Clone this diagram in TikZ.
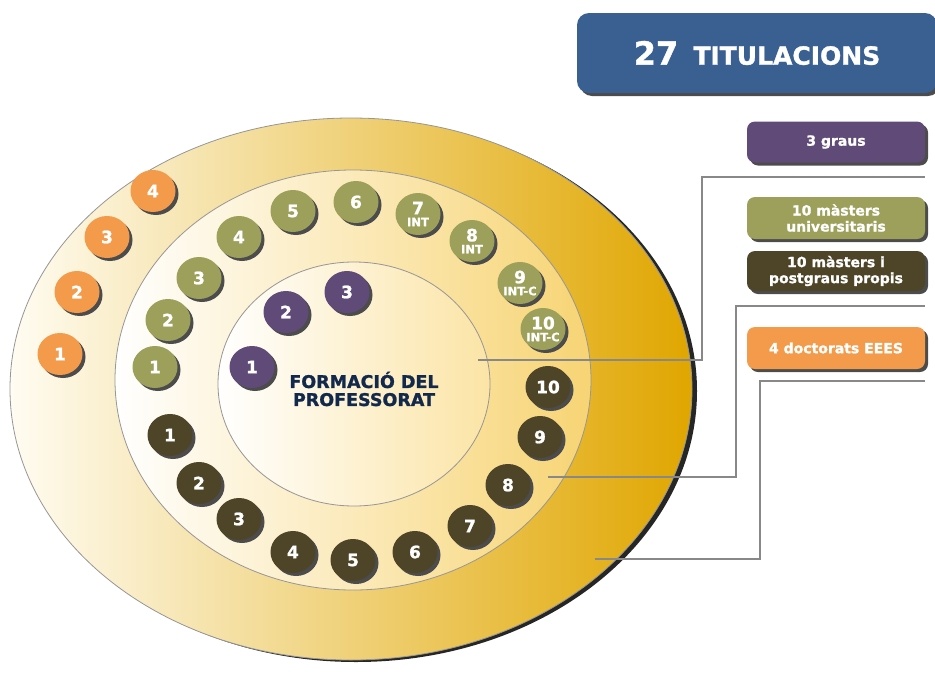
\documentclass[tikz,border=0pt]{standalone}
\usepackage{fontspec}
\setmainfont{DejaVu Sans}[BoldFeatures={FakeBold=1.3}]
\usetikzlibrary{shapes.geometric,shadows}
\definecolor{cor}{RGB}{243,155,74}
\definecolor{col}{RGB}{156,160,90}
\definecolor{cpu}{RGB}{96,74,120}
\definecolor{cbr}{RGB}{78,68,40}
\definecolor{cbl}{RGB}{58,95,145}
\definecolor{cnv}{RGB}{19,41,75}
\definecolor{cln}{RGB}{136,136,136}
\definecolor{cedge}{RGB}{150,150,150}
\definecolor{gA}{RGB}{255,252,242}
\definecolor{gB}{RGB}{243,216,140}
\definecolor{gC}{RGB}{224,166,0}
\definecolor{mB}{RGB}{252,236,190}
\definecolor{mC}{RGB}{247,212,116}
\definecolor{iB}{RGB}{254,244,218}
\definecolor{iC}{RGB}{251,228,165}
\newcommand\smt[1]{{\fontsize{11.5}{11}\selectfont #1}}
\newcommand\mydisc[4]{\node[disc,fill=#2] (#1) at (#3) {}; \node[dtxt] (#1t) at (#1) {#4};}
\begin{document}
\begin{tikzpicture}[x=1pt,y=-1pt,
  disc/.style={ellipse, minimum width=45pt, minimum height=42pt, inner sep=0pt,
    drop shadow={shadow xshift=3pt, shadow yshift=-3pt, fill=black!70, opacity=1}},
  dtxt/.style={inner sep=0pt, text=white, align=center, font=\bfseries\fontsize{17}{14}\selectfont},
  lbox/.style={rounded corners=8pt, minimum width=178pt, inner sep=0pt, text=white, align=center,
    font=\bfseries\fontsize{14}{16}\selectfont,
    drop shadow={shadow xshift=3pt, shadow yshift=-3pt, fill=black!70, opacity=1}},
  ring/.style={ellipse, draw=cedge, line width=0.8pt, inner sep=0pt},
  conn/.style={draw=cln, line width=2.5pt}
]
\useasboundingbox (0,0) rectangle (935,686);
% rings
\node[ring, minimum width=682pt, minimum height=542pt, left color=gA, middle color=gB, right color=gC,
  drop shadow={shadow xshift=5pt, shadow yshift=-2pt, fill=black!85, opacity=1}] (outer) at (351,389) {};
\node[ring, minimum width=476pt, minimum height=420pt, left color=white, middle color=mB, right color=mC] (middle) at (353,380) {};
\node[ring, minimum width=272pt, minimum height=244pt, left color=white, middle color=iB, right color=iC] (inner) at (354,384) {};
% title
\node[text=cnv, font=\bfseries\fontsize{17.5}{18}\selectfont, align=center, inner sep=0pt] (form) at (364,389) {FORMACIÓ DEL\\PROFESSORAT};
% orange discs
\mydisc{d1}{cor}{60,354}{1}
\mydisc{d2}{cor}{77,292}{2}
\mydisc{d3}{cor}{107,237}{3}
\mydisc{d4}{cor}{153,191}{4}
% olive discs
\mydisc{m1}{col}{155,367}{1}
\mydisc{m2}{col}{168,320}{2}
\mydisc{m3}{col}{199,278}{3}
\mydisc{m4}{col}{239,237}{4}
\mydisc{m5}{col}{293,211}{5}
\mydisc{m6}{col}{356,202}{6}
\mydisc{m7}{col}{418,214}{7\\[-2pt]\smt{INT}}
\mydisc{m8}{col}{472,241}{8\\[-2pt]\smt{INT}}
\mydisc{m9}{col}{520,283}{9\\[-2pt]\smt{INT-C}}
\mydisc{m10}{col}{543,329}{10\\[-2pt]\smt{INT-C}}
% purple discs
\mydisc{g1}{cpu}{252,367}{1}
\mydisc{g2}{cpu}{286,312}{2}
\mydisc{g3}{cpu}{347,292}{3}
% brown discs
\mydisc{b1}{cbr}{170,435}{1}
\mydisc{b2}{cbr}{199,483}{2}
\mydisc{b3}{cbr}{239,519}{3}
\mydisc{b4}{cbr}{293,552}{4}
\mydisc{b5}{cbr}{353,560}{5}
\mydisc{b6}{cbr}{415,552}{6}
\mydisc{b7}{cbr}{470,526}{7}
\mydisc{b8}{cbr}{508,485}{8}
\mydisc{b9}{cbr}{540,437}{9}
\mydisc{b10}{cbr}{548,387}{10}
% header box
\node[lbox, fill=cbl, rounded corners=12pt, minimum width=360pt, minimum height=80pt,
  font=\bfseries] (head) at (757,53) {\fontsize{32}{32}\selectfont 27\hspace{4pt} \fontsize{25}{25}\selectfont TITULACIONS};
% legend boxes
\node[lbox, fill=cpu, minimum height=41pt] (lg) at (836,142) {3 graus};
\node[lbox, fill=col, minimum height=42pt] (lm) at (836,218) {10 màsters\\universitaris};
\node[lbox, fill=cbr, minimum height=40pt] (lp) at (836,271) {10 màsters i\\postgraus propis};
\node[lbox, fill=cor, minimum height=42pt] (ld) at (836,348) {4 doctorats EEES};
% connectors
\coordinate (p1) at (478,360); \coordinate (k1) at (702,177); \coordinate (e1) at (925,177);
\coordinate (p2) at (548,477); \coordinate (k2) at (736,306); \coordinate (e2) at (925,306);
\coordinate (p3) at (595,559); \coordinate (k3) at (760,381); \coordinate (e3) at (925,381);
\draw[conn] (p1) -| (k1) -- (e1);
\draw[conn] (p2) -| (k2) -- (e2);
\draw[conn] (p3) -| (k3) -- (e3);
\end{tikzpicture}
\end{document}
